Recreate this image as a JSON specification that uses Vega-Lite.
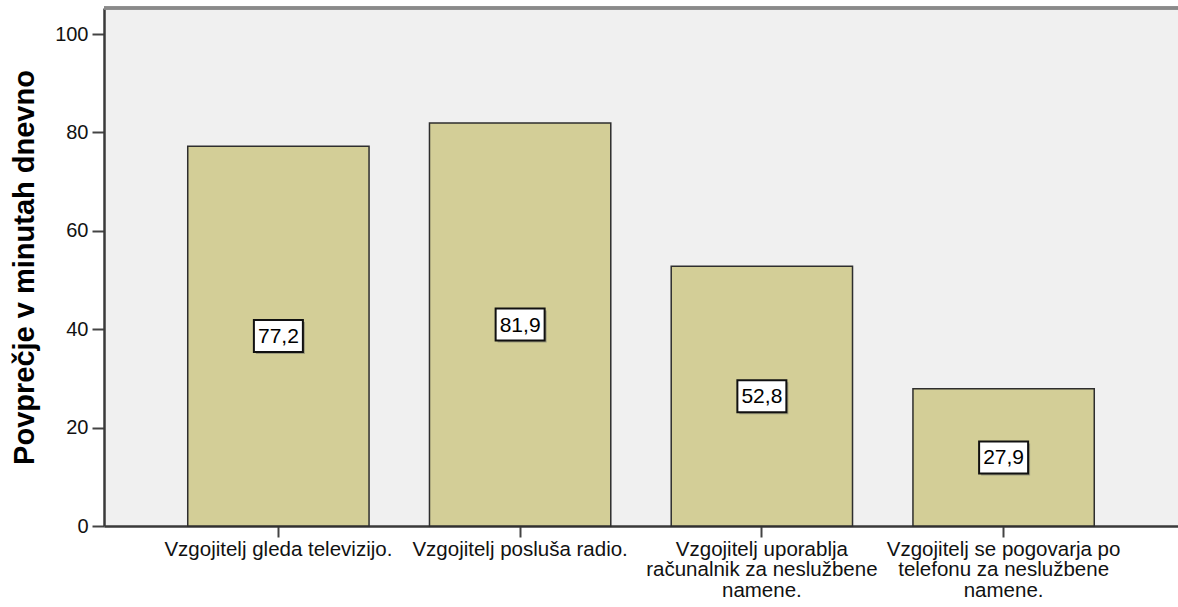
{
  "$schema": "https://vega.github.io/schema/vega-lite/v6.json",
  "width": 1074,
  "height": 518,
  "autosize": {"type": "none"},
  "padding": {"left": 104, "top": 8, "right": 0, "bottom": 81},
  "background": "white",
  "config": {
    "view": {"stroke": null, "fill": "#F0F0F0"},
    "font": "Liberation Sans",
    "locale": {"number": {"decimal": ",", "thousands": ".", "grouping": [3], "currency": ["", " €"]}}
  },
  "data": {
    "values": [
      {"cat": "Vzgojitelj gleda televizijo.", "value": 77.2},
      {"cat": "Vzgojitelj posluša radio.", "value": 81.9},
      {"cat": "Vzgojitelj uporablja|računalnik za neslužbene|namene.", "value": 52.8},
      {"cat": "Vzgojitelj se pogovarja po|telefonu za neslužbene|namene.", "value": 27.9}
    ]
  },
  "encoding": {
    "x": {
      "field": "cat",
      "type": "nominal",
      "sort": null,
      "scale": {"paddingInner": 0.25, "paddingOuter": 0.3464},
      "axis": {
        "title": null,
        "labelAngle": 0,
        "labelExpr": "split(datum.label, '|')",
        "labelFontSize": 20.5,
        "labelLineHeight": 20.5,
        "labelColor": "#111111",
        "labelAlign": "center",
        "labelBaseline": "top",
        "labelPadding": 2,
        "labelLimit": 400,
        "tickSize": 11,
        "tickWidth": 2,
        "tickColor": "#444444",
        "domainColor": "#3a3a3a",
        "domainWidth": 2.5
      }
    }
  },
  "layer": [
    {
      "mark": {"type": "rule", "stroke": "#8a8a8a", "strokeWidth": 3},
      "encoding": {"x": null, "y": {"datum": 105.3, "type": "quantitative"}}
    },
    {
      "mark": {"type": "bar", "fill": "#D3CE97", "stroke": "#2e2e2e", "strokeWidth": 1.5},
      "encoding": {
        "y": {
          "field": "value",
          "type": "quantitative",
          "scale": {"domain": [0, 105.3], "nice": false, "zero": true},
          "axis": {
            "title": "Povprečje v minutah dnevno",
            "titleFontSize": 29,
            "titleFontWeight": "bold",
            "titleColor": "#000000",
            "titleX": -71,
            "titleAngle": -90,
            "titleAlign": "center",
            "titleBaseline": "alphabetic",
            "values": [0, 20, 40, 60, 80, 100],
            "grid": false,
            "labelFontSize": 20,
            "labelColor": "#111111",
            "labelPadding": 4,
            "tickSize": 12,
            "tickWidth": 2,
            "tickColor": "#444444",
            "domainColor": "#3a3a3a",
            "domainWidth": 2.5
          }
        }
      }
    },
    {
      "transform": [{"calculate": "datum.value / 2", "as": "mid"}],
      "layer": [
        {
          "mark": {
            "type": "point",
            "shape": "M-1,-0.653H1V0.653H-1Z",
            "size": 2401,
            "filled": true,
            "fill": "#7a7a6a",
            "opacity": 0.6,
            "xOffset": 2,
            "yOffset": 2,
            "strokeWidth": 0
          },
          "encoding": {"y": {"field": "mid", "type": "quantitative"}}
        },
        {
          "mark": {
            "type": "point",
            "shape": "M-1,-0.653H1V0.653H-1Z",
            "size": 2401,
            "filled": true,
            "fill": "#FFFFFF",
            "stroke": "#111111",
            "strokeWidth": 2,
            "opacity": 1
          },
          "encoding": {"y": {"field": "mid", "type": "quantitative"}}
        },
        {
          "mark": {"type": "text", "fontSize": 21, "color": "#000000", "align": "center", "baseline": "middle", "dy": 1},
          "encoding": {
            "y": {"field": "mid", "type": "quantitative"},
            "text": {"field": "value", "type": "quantitative", "format": ".1f"}
          }
        }
      ]
    }
  ]
}
